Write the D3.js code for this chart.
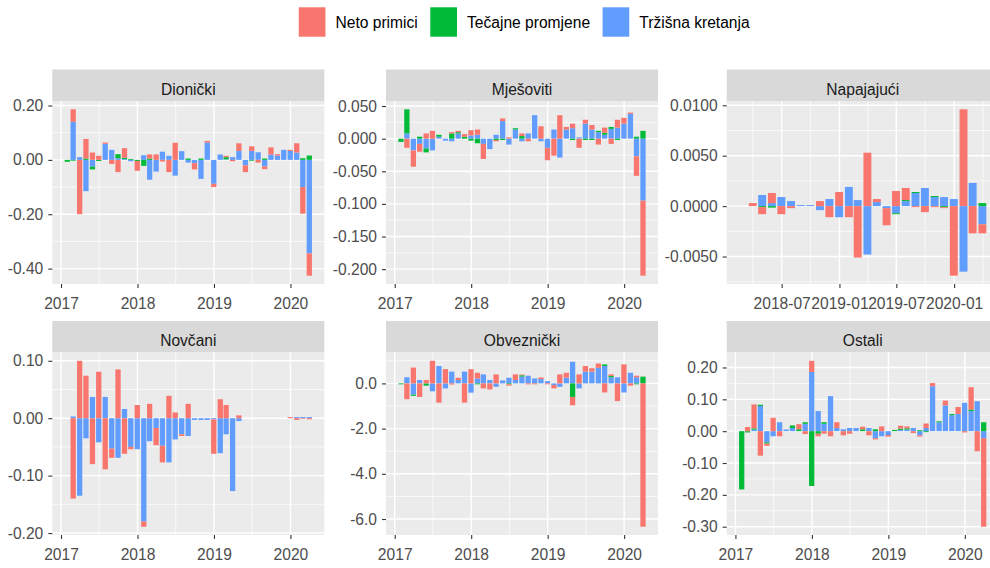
<!DOCTYPE html>
<html>
<head>
<meta charset="utf-8">
<script src="https://cdn.jsdelivr.net/npm/d3@7/dist/d3.min.js"></script>
<style>
  html, body { margin: 0; padding: 0; background: #ffffff; overflow: hidden; }
  #chart svg { display: block; font-family: Arial, 'Liberation Sans', sans-serif; }
</style>
</head>
<body>
<div id="chart"></div>
<script>
/* global d3 */

// months (bars sit at the end of each month)
var months = ['2017-01','2017-02','2017-03','2017-04','2017-05','2017-06','2017-07','2017-08','2017-09','2017-10','2017-11','2017-12',
              '2018-01','2018-02','2018-03','2018-04','2018-05','2018-06','2018-07','2018-08','2018-09','2018-10','2018-11','2018-12',
              '2019-01','2019-02','2019-03','2019-04','2019-05','2019-06','2019-07','2019-08','2019-09','2019-10','2019-11','2019-12',
              '2020-01','2020-02','2020-03'];
var napajajuciMonths = months.slice(13);

var seriesNames  = ['Neto primici', 'Tečajne promjene', 'Tržišna kretanja'];
var seriesColors = ['#F8766D', '#00BA38', '#619CFF'];

// Dionički
var dionickiNeto    = [0, 0.046, -0.2, 0.072, 0.027, 0.015, 0.005, -0.015, -0.045, 0.035, 0, -0.036,
                       0, 0.015, 0.02, -0.006, -0.045, 0.063, 0, 0, -0.023, 0, 0.006, -0.012,
                       0, 0.005, -0.005, 0.028, -0.025, 0.017, -0.01, -0.01, 0.026, 0.005, 0, 0.004,
                       0.034, -0.098, -0.082];
var dionickiTecaj   = [-0.007, -0.003, 0, 0.005, -0.01, -0.004, 0, 0, 0.015, 0.005, 0.003, -0.004,
                       -0.022, 0.005, 0, 0, 0, 0, 0, 0.005, 0, 0.005, 0, 0,
                       0, 0.008, 0, 0, 0, -0.003, 0, 0.005, 0, 0, 0, 0,
                       0, 0.006, 0.016];
var dionickiTrzisna = [0, 0.14, 0.01, -0.115, -0.025, 0, 0.059, 0.037, 0.006, 0.003, -0.005, 0,
                       0.017, -0.073, -0.043, 0.03, 0.015, -0.058, 0.032, -0.01, -0.012, -0.07, 0.064, -0.088,
                       0.02, 0.002, 0.01, 0.033, -0.02, 0.033, 0.028, -0.024, 0.02, 0.016, 0.037, 0.033,
                       0.027, -0.1, -0.344];

// Mješoviti
var mjesovitiNeto    = [0, -0.014, -0.025, -0.012, 0.008, 0.012, 0, 0, 0.002, 0.002, 0.004, 0.008,
                        0.008, -0.023, 0, -0.002, 0.004, 0.002, 0, 0.004, -0.004, 0, 0.019, -0.019,
                        -0.026, 0.036, 0.004, 0.007, -0.014, 0.006, 0.007, -0.009, 0.008, -0.008, 0.012, 0.009,
                        0.002, -0.03, -0.115];
var mjesovitiTecaj   = [-0.005, 0.037, 0, 0.003, -0.006, 0, 0.003, 0, 0.008, 0.002, 0.003, -0.003,
                        -0.007, 0, 0, -0.002, -0.002, 0, 0.002, 0.004, 0, 0, 0, 0,
                        0, 0, 0, -0.002, 0, -0.002, -0.002, 0.002, 0.003, 0.003, -0.002, 0,
                        0, 0.003, 0.012];
var mjesovitiTrzisna = [0, 0.008, -0.018, -0.008, -0.015, -0.018, 0.003, -0.003, -0.004, 0.008, 0, 0.005,
                        0.006, -0.008, -0.016, 0.006, 0.027, -0.009, 0.014, -0.004, 0.008, 0.036, -0.004, -0.014,
                        0.014, -0.029, 0.014, 0.016, 0.002, 0.023, 0.014, 0.01, 0.006, 0.015, 0.017, 0.023,
                        0.038, -0.027, -0.095];

// Napajajući (from 2018-02)
var napajajuciNeto    = [0, 0.0003, -0.0007, 0.001, -0.0008, -0.0002, 0, 0, 0.0005, -0.0011, 0.0014,
                         -0.0011, -0.0051, 0.0053, 0.0003, -0.0017, 0.0015, 0.0012, -0.0001, -0.0006, -0.0001, -0.0001, -0.0069,
                         0.0096, -0.0027, -0.0009];
var napajajuciTecaj   = [0, 0, -0.0001, -0.00015, 0, 0, 0, 0, 0, 0, 0,
                         0, 0, 0, 0, 0, -0.0001, 0.0001, 0.0001, 0, 0.0001, -0.0001, 0,
                         0, 0, 0.0003];
var napajajuciTrzisna = [0, 0, 0.0011, 0.0003, 0.0009, 0.0005, 0.0001, 0.0001, -0.0004, 0.0007, -0.0011,
                         0.0019, 0.0006, -0.0048, 0.0004, -0.0002, -0.0007, 0.0005, 0.0013, 0.0018, 0.0009, 0.0009, 0.0007,
                         -0.0065, 0.0023, -0.0018];

// Novčani
var novcaniNeto    = [null, -0.14, 0.1, 0.074, -0.08, 0.081, -0.089, -0.016, 0.085, -0.062, -0.004, 0.023,
                      -0.009, 0.025, -0.03, -0.029, 0.039, 0.01, -0.003, 0.025, 0, 0, 0, -0.06,
                      0.033, 0.023, 0, 0.005, null, null, null, null, null, null, null, 0.002,
                      -0.003, -0.001, -0.002];
var novcaniTecaj   = [null, 0, 0, 0, 0, 0, 0, 0, 0, 0, 0, 0,
                      0, 0, 0, 0, 0, 0, 0, 0, 0, 0, 0, 0,
                      0, 0, 0, 0, null, null, null, null, null, null, null, 0,
                      0, 0, 0];
var novcaniTrzisna = [null, 0.003, -0.135, -0.035, 0.037, -0.042, 0.037, -0.053, -0.069, 0.016, -0.05, -0.054,
                      -0.18, -0.04, -0.017, -0.048, -0.077, -0.037, -0.028, -0.031, -0.003, -0.003, -0.003, -0.002,
                      -0.061, -0.028, -0.127, -0.005, null, null, null, null, null, null, null, 0,
                      0.002, 0.002, 0.002];

// Obveznički
var obveznickiNeto    = [0, -0.7, 0.7, -0.6, 0.15, 1.0, -0.85, 0.63, -0.05, 0.1, -0.85, 0.63,
                         0.25, -0.22, -0.27, 0.4, 0, -0.06, 0.25, 0.03, -0.04, -0.04, 0.07, -0.04,
                         -0.15, 0.4, 0.22, -0.37, 0.4, 0.25, 0.15, 0.19, -0.4, 0.07, -0.78, 0.84,
                         -0.1, 0.07, -6.34];
var obveznickiTecaj   = [-0.04, 0, -0.05, 0, -0.1, 0, 0, 0, 0, 0, 0, 0,
                         -0.04, 0, 0, 0, 0, -0.04, 0, 0.06, 0, 0, 0, 0,
                         0, 0, 0, -0.6, 0, 0, 0, 0, 0.07, 0.06, 0, 0,
                         0, -0.04, 0.3];
var obveznickiTrzisna = [0, 0.27, -0.5, 0.15, 0, -0.35, 0.77, -0.22, 0.52, 0.15, 0.52, -0.41,
                         0.22, 0.4, 0.15, -0.15, 0.13, 0.25, 0.15, 0.3, 0.34, 0.22, 0.19, 0.1,
                         -0.07, -0.15, 0.25, 0.96, -0.22, 0.52, 0.52, 0.69, 0.77, 0.27, 0.27, -0.4,
                         0.47, 0.27, 0];

// Ostali
var ostaliNeto    = [0, 0.013, 0.075, -0.077, -0.007, 0.042, -0.016, 0, 0, 0.016, -0.009, 0.035,
                     -0.008, -0.008, -0.016, 0.018, -0.013, -0.008, 0, 0.008, -0.013, -0.004, 0.015, -0.005,
                     0, 0.009, 0.006, -0.006, -0.004, 0.014, 0.01, 0, 0.015, 0, 0.022, -0.004,
                     0.07, -0.063, -0.278];
var ostaliTecaj   = [-0.183, -0.004, 0.004, 0.004, -0.004, 0, 0, 0, 0.008, 0.006, 0.005, -0.172,
                     -0.008, 0.005, 0, 0, 0, 0, 0, 0.006, 0, 0.006, 0, 0,
                     0.004, 0.004, 0.004, 0, 0.003, -0.003, 0, 0.003, 0, 0.004, 0, 0,
                     0.005, 0, 0.028];
var ostaliTrzisna = [0, 0, 0.005, 0.079, -0.035, -0.016, 0.028, 0.005, 0.01, 0, 0.023, 0.186,
                     0.063, 0.023, 0.11, 0.01, 0.006, 0.01, 0.01, 0, 0.01, -0.022, -0.016, -0.012,
                     0, 0.004, 0.005, 0.01, -0.013, 0.01, 0.141, 0.028, 0.081, 0.05, 0.054, 0.089,
                     0.063, 0.094, -0.022];

// tick labels
var yearTicks          = ['2017-01-01', '2018-01-01', '2019-01-01', '2020-01-01'];
var halfYearTicks      = ['2018-07-01', '2019-01-01', '2019-07-01', '2020-01-01'];
var dionickiTicks      = [-0.4, -0.2, 0, 0.2];
var mjesovitiTicks     = [-0.2, -0.15, -0.1, -0.05, 0, 0.05];
var napajajuciTicks    = [-0.005, 0, 0.005, 0.01];
var novcaniTicks       = [-0.2, -0.1, 0, 0.1];
var obveznickiTicks    = [-6, -4, -2, 0];
var ostaliTicks        = [-0.3, -0.2, -0.1, 0, 0.1, 0.2];

var panels = [
  {title: 'Dionički',   months: months, series: [dionickiNeto, dionickiTecaj, dionickiTrzisna],       yTicks: dionickiTicks,   yFmt: '.2f', xTicks: yearTicks,     xFmt: '%Y',    col: 0, row: 0},
  {title: 'Mješoviti',  months: months, series: [mjesovitiNeto, mjesovitiTecaj, mjesovitiTrzisna],    yTicks: mjesovitiTicks,  yFmt: '.3f', xTicks: yearTicks,     xFmt: '%Y',    col: 1, row: 0},
  {title: 'Napajajući', months: napajajuciMonths, series: [napajajuciNeto, napajajuciTecaj, napajajuciTrzisna], yTicks: napajajuciTicks, yFmt: '.4f', xTicks: halfYearTicks, xFmt: '%Y-%m', col: 2, row: 0},
  {title: 'Novčani',    months: months, series: [novcaniNeto, novcaniTecaj, novcaniTrzisna],          yTicks: novcaniTicks,    yFmt: '.2f', xTicks: yearTicks,     xFmt: '%Y',    col: 0, row: 1},
  {title: 'Obveznički', months: months, series: [obveznickiNeto, obveznickiTecaj, obveznickiTrzisna], yTicks: obveznickiTicks, yFmt: '.1f', xTicks: yearTicks,     xFmt: '%Y',    col: 1, row: 1},
  {title: 'Ostali',     months: months, series: [ostaliNeto, ostaliTecaj, ostaliTrzisna],             yTicks: ostaliTicks,     yFmt: '.2f', xTicks: yearTicks,     xFmt: '%Y',    col: 2, row: 1}
];

var WIDTH = 990, HEIGHT = 568, FONT = 15.6;
var colLeft = [52.3, 386, 726.7], panelWidth = 272;
var stripTop = [69.5, 321], stripHeight = 31.5;
var panelBottom = [284, 535];

var parseMonth = d3.utcParse('%Y-%m'),
    parseDay   = d3.utcParse('%Y-%m-%d'),
    DAY        = 864e5,
    halfBar    = 0.45 * 28 * DAY;

var locale = d3.formatLocale({decimal: '.', thousands: ',', grouping: [3], currency: ['', ''], minus: '-'});

function monthEnd(m) {
  return d3.utcDay.offset(d3.utcMonth.offset(parseMonth(m), 1), -1);
}

function expand(lo, hi) {
  var d = (hi - lo) * 0.05;
  return [lo - d, hi + d];
}

// ggplot style minor breaks: midpoints between majors (one step beyond each end)
function minorBreaks(major, domain) {
  var ext = [2 * major[0] - major[1]].concat(major, [2 * major[major.length - 1] - major[major.length - 2]]);
  var out = [];
  for (var i = 0; i < ext.length - 1; i++) {
    var m = (ext[i] + ext[i + 1]) / 2;
    if (m >= domain[0] && m <= domain[1]) out.push(m);
  }
  return out;
}

var svg = d3.select('#chart').append('svg')
  .attr('xmlns', 'http://www.w3.org/2000/svg')
  .attr('width', WIDTH)
  .attr('height', HEIGHT);

svg.append('rect').attr('width', WIDTH).attr('height', HEIGHT).style('fill', '#ffffff');

// Legend
var legend = svg.append('g'),
    keyW = 26.7, keyH = 29.4, pos = 0;

seriesNames.forEach(function(name, i) {
  var item = legend.append('g').attr('transform', 'translate(' + pos + ',0)');
  item.append('rect')
    .attr('x', 0).attr('y', 7.3)
    .attr('width', keyW).attr('height', keyH)
    .style('fill', seriesColors[i]);
  var t = item.append('text')
    .attr('x', keyW + 10).attr('y', 28)
    .style('font-size', FONT + 'px')
    .style('fill', '#000000')
    .text(name);
  pos += keyW + 10 + t.node().getComputedTextLength() + 12.5;
});
legend.attr('transform', 'translate(' + (524.2 - (pos - 12.5) / 2) + ',0)');

// Panels
panels.forEach(function(p) {
  var left   = colLeft[p.col],
      top    = stripTop[p.row] + stripHeight,
      bottom = panelBottom[p.row],
      dates  = p.months.map(monthEnd);

  // stack: Tržišna nearest zero, then Tečajne, then Neto outermost
  var bars = [], lo = 0, hi = 0;
  dates.forEach(function(d, i) {
    var posSum = 0, negSum = 0;
    [2, 1, 0].forEach(function(s) {
      var v = p.series[s][i];
      if (v === null) return;
      var y0, y1;
      if (v >= 0) { y0 = posSum; y1 = posSum + v; posSum = y1; }
      else        { y0 = negSum; y1 = negSum + v; negSum = y1; }
      bars.push({date: d, s: s, y0: y0, y1: y1});
    });
    lo = Math.min(lo, negSum);
    hi = Math.max(hi, posSum);
  });

  var xDomain = expand(+dates[0] - halfBar, +dates[dates.length - 1] + halfBar);
  var x = d3.scaleUtc().domain(xDomain).range([left, left + panelWidth]);
  var y = d3.scaleLinear().domain(expand(lo, hi)).range([bottom, top]);

  var g = svg.append('g');

  // strip
  g.append('rect')
    .attr('x', left).attr('y', stripTop[p.row])
    .attr('width', panelWidth).attr('height', stripHeight)
    .style('fill', '#D9D9D9');
  g.append('text')
    .attr('x', left + panelWidth / 2)
    .attr('y', stripTop[p.row] + stripHeight / 2 + 9.5)
    .style('text-anchor', 'middle')
    .style('font-size', FONT + 'px')
    .style('fill', '#1A1A1A')
    .text(p.title);

  // background
  g.append('rect')
    .attr('x', left).attr('y', top)
    .attr('width', panelWidth).attr('height', bottom - top)
    .style('fill', '#EBEBEB');

  var xMajor = p.xTicks.map(function(s) { return +parseDay(s); }),
      xMinor = minorBreaks(xMajor, xDomain),
      yMinor = minorBreaks(p.yTicks, y.domain());

  var grid = g.append('g').style('stroke', '#ffffff');
  grid.selectAll('line.ymin').data(yMinor).enter().append('line')
    .attr('x1', left).attr('x2', left + panelWidth)
    .attr('y1', function(d) { return y(d); }).attr('y2', function(d) { return y(d); })
    .style('stroke-width', 0.7);
  grid.selectAll('line.xmin').data(xMinor).enter().append('line')
    .attr('y1', top).attr('y2', bottom)
    .attr('x1', function(d) { return x(d); }).attr('x2', function(d) { return x(d); })
    .style('stroke-width', 0.7);
  grid.selectAll('line.ymaj').data(p.yTicks).enter().append('line')
    .attr('x1', left).attr('x2', left + panelWidth)
    .attr('y1', function(d) { return y(d); }).attr('y2', function(d) { return y(d); })
    .style('stroke-width', 1.4);
  grid.selectAll('line.xmaj').data(xMajor).enter().append('line')
    .attr('y1', top).attr('y2', bottom)
    .attr('x1', function(d) { return x(d); }).attr('x2', function(d) { return x(d); })
    .style('stroke-width', 1.4);

  // bars
  g.append('g').selectAll('rect').data(bars).enter().append('rect')
    .attr('x', function(d) { return x(+d.date - halfBar); })
    .attr('width', function(d) { return x(+d.date + halfBar) - x(+d.date - halfBar); })
    .attr('y', function(d) { return y(Math.max(d.y0, d.y1)); })
    .attr('height', function(d) { return Math.abs(y(d.y0) - y(d.y1)); })
    .style('fill', function(d) { return seriesColors[d.s]; });

  // axes
  var yAxis = g.append('g')
    .attr('transform', 'translate(' + left + ',0)')
    .call(d3.axisLeft(y).tickValues(p.yTicks).tickFormat(locale.format(p.yFmt)).tickSize(4).tickPadding(5));
  var xAxis = g.append('g')
    .attr('transform', 'translate(0,' + bottom + ')')
    .call(d3.axisBottom(x).tickValues(xMajor.map(function(v) { return new Date(v); }))
      .tickFormat(d3.utcFormat(p.xFmt)).tickSize(4).tickPadding(9.5));

  [yAxis, xAxis].forEach(function(a) {
    a.attr('font-family', null).attr('font-size', null);
    a.select('.domain').remove();
    a.selectAll('.tick line').style('stroke', '#333333').style('stroke-width', 1.1);
    a.selectAll('.tick text').style('fill', '#4D4D4D').style('font-size', FONT + 'px');
  });
});
</script>
</body>
</html>
